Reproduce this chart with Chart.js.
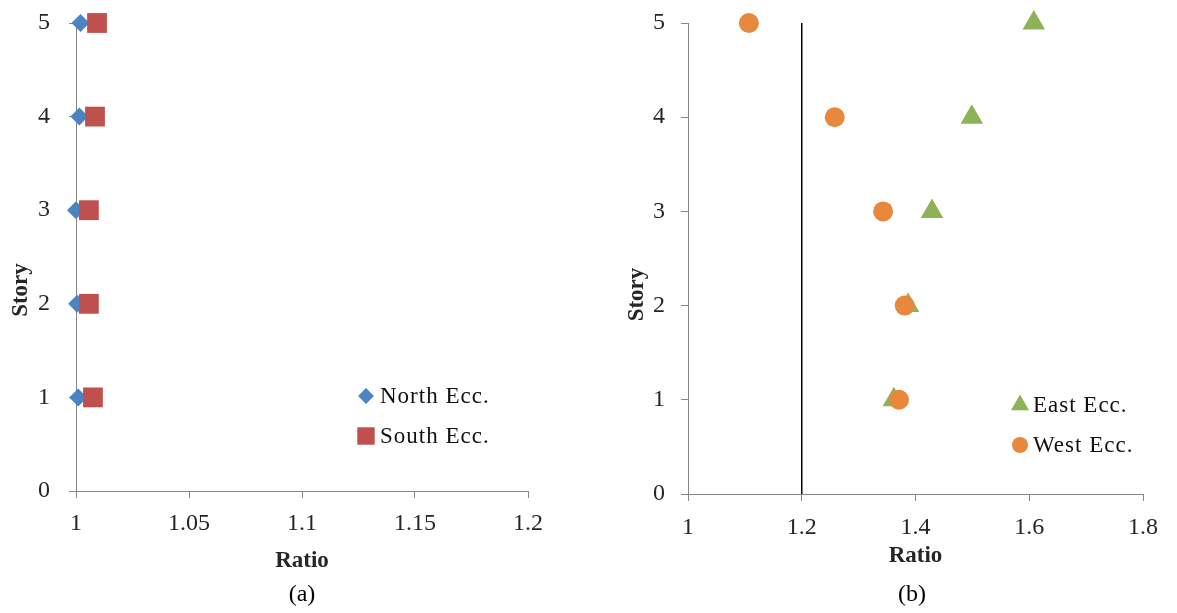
<!DOCTYPE html>
<html>
<head>
<meta charset="utf-8">
<script src="https://cdn.jsdelivr.net/npm/chart.js"></script>
<style>
  html, body { margin: 0; padding: 0; background: #fff; }
  body { width: 1177px; height: 613px; position: relative; overflow: hidden; font-family: "Liberation Serif", "Times New Roman", serif; }
  .box { position: absolute; top: 0; height: 613px; }
  #boxA { left: 0; width: 560px; }
  #boxB { left: 600px; width: 577px; }
  .cap { position: absolute; top: 578px; font-size: 24px; line-height: 30px; color: #000; transform: translateX(-50%); }
</style>
</head>
<body>
<div class="box" id="boxA"><canvas id="chartA" width="560" height="613"></canvas></div>
<div class="box" id="boxB"><canvas id="chartB" width="577" height="613"></canvas></div>
<div class="cap" style="left:302px">(a)</div>
<div class="cap" style="left:912px">(b)</div>
<script>
// story levels and the measured ratios for each one
const stories = [1, 2, 3, 4, 5];
const northEcc = [1.001, 1.0005, 1.0, 1.0015, 1.002];
const southEcc = [1.0075, 1.0057, 1.0057, 1.0084, 1.0093];
const eastEcc = [1.362, 1.387, 1.429, 1.499, 1.608];
const westEcc = [1.371, 1.381, 1.343, 1.258, 1.107];
// vertical limit line in (b)
const limitRatio = 1.2;
const limitStories = [0, 5];

const serif = '"Liberation Serif", "Times New Roman", serif';
Chart.defaults.font.family = serif;
Chart.defaults.color = '#262626';

const axisGray = '#868686';
const fmt = v => String(parseFloat(Number(v).toFixed(4)));
const pts = (xs, ys) => xs.map((x, i) => ({ x: x, y: ys[i] }));

// little legend drawn inside the plot, like the Excel one
const legendBox = {
  id: 'legendBox',
  afterDatasetsDraw(chart, args, opts) {
    const ctx = chart.ctx;
    ctx.save();
    opts.items.forEach((idx, i) => {
      const ds = chart.data.datasets[idx];
      const y = opts.y + i * opts.gap;
      ctx.fillStyle = ds.backgroundColor;
      ctx.strokeStyle = ds.backgroundColor;
      Chart.helpers.drawPoint(ctx, { pointStyle: ds.pointStyle, radius: ds.pointRadius * opts.scale, borderWidth: 0, rotation: 0 }, opts.x, y);
      ctx.fillStyle = '#111';
      ctx.font = opts.font;
      if ('letterSpacing' in ctx) ctx.letterSpacing = '1px';
      ctx.textBaseline = 'middle';
      ctx.textAlign = 'left';
      ctx.fillText(ds.label, opts.x + opts.textGap, y + 1);
    });
    ctx.restore();
  }
};

// "Story" sits a bit below the middle of the axis in the original
const storyTitle = {
  id: 'storyTitle',
  afterDraw(chart, args, opts) {
    const ctx = chart.ctx;
    const a = chart.chartArea;
    ctx.save();
    ctx.translate(opts.x, (a.top + a.bottom) / 2 + opts.shift);
    ctx.rotate(-Math.PI / 2);
    ctx.font = 'bold 23px ' + serif;
    ctx.fillStyle = '#262626';
    ctx.textAlign = 'center';
    ctx.textBaseline = 'middle';
    ctx.fillText(opts.text, 0, 0);
    ctx.restore();
  }
};

function makeScales(cfg) {
  return {
    x: {
      type: 'linear',
      min: cfg.xMin, max: cfg.xMax,
      afterFit: s => { s.height = cfg.xAxisH; },
      ticks: { stepSize: cfg.xStep, callback: fmt, padding: cfg.xTickPad, font: { size: 24 }, maxRotation: 0, autoSkip: false, color: '#262626' },
      grid: { drawOnChartArea: false, tickLength: 7, color: axisGray, tickColor: axisGray },
      border: { color: axisGray, width: 1 },
      title: { display: true, text: 'Ratio', font: { size: 23, weight: 'bold' }, color: '#262626', padding: { top: 0, bottom: cfg.xTitlePad } }
    },
    y: {
      type: 'linear',
      min: 0, max: 5,
      afterFit: s => { s.width = cfg.yAxisW; s.paddingTop = 0; s.paddingBottom = 0; },
      ticks: { stepSize: 1, padding: cfg.yTickPad, font: { size: 24 }, color: '#262626' },
      grid: { drawOnChartArea: false, tickLength: 7, color: axisGray, tickColor: axisGray },
      border: { color: axisGray, width: 1 }
    }
  };
}

const baseOpts = {
  responsive: false,
  devicePixelRatio: 1,
  animation: false,
  events: [],
  plugins: { legend: { display: false }, tooltip: { enabled: false } }
};

// (a)
new Chart(document.getElementById('chartA').getContext('2d'), {
  type: 'scatter',
  data: {
    datasets: [
      { label: 'North Ecc.', data: pts(northEcc, stories), pointStyle: 'rectRot', pointRadius: 9, backgroundColor: '#4A84C4', borderWidth: 0, clip: false, order: 1 },
      { label: 'South Ecc.', data: pts(southEcc, stories), pointStyle: 'rect', pointRadius: 14, backgroundColor: '#C0504D', borderWidth: 0, clip: false, order: 0 }
    ]
  },
  options: Object.assign({}, baseOpts, {
    layout: { padding: { top: 23, right: 32, bottom: 32, left: 0 } },
    scales: makeScales({ xMin: 1, xMax: 1.2, xStep: 0.05, xAxisH: 90, yAxisW: 76, xTickPad: 11, xTitlePad: 6, yTickPad: 19 }),
    plugins: Object.assign({}, baseOpts.plugins, {
      legendBox: { items: [0, 1], x: 366, y: 396, gap: 40, scale: 0.88, textGap: 14, font: '23px ' + serif },
      storyTitle: { text: 'Story', x: 21, shift: 33 }
    })
  }),
  plugins: [legendBox, storyTitle]
});

// (b)
new Chart(document.getElementById('chartB').getContext('2d'), {
  type: 'scatter',
  data: {
    datasets: [
      { label: 'East Ecc.', data: pts(eastEcc, stories), pointStyle: 'triangle', pointRadius: 13, backgroundColor: '#8DB356', borderWidth: 0, clip: false, order: 1 },
      { label: 'West Ecc.', data: pts(westEcc, stories), pointStyle: 'circle', pointRadius: 10, backgroundColor: '#E8883C', borderWidth: 0, clip: false, order: 0 },
      { label: 'limit', data: pts([limitRatio, limitRatio], limitStories), showLine: true, pointRadius: 0, borderColor: '#000', borderWidth: 1.5, clip: false, order: 2 }
    ]
  },
  options: Object.assign({}, baseOpts, {
    layout: { padding: { top: 23, right: 34, bottom: 32, left: 0 } },
    scales: makeScales({ xMin: 1, xMax: 1.8, xStep: 0.2, xAxisH: 87, yAxisW: 88, xTickPad: 12, xTitlePad: 11, yTickPad: 16 }),
    plugins: Object.assign({}, baseOpts.plugins, {
      legendBox: { items: [0, 1], x: 420, y: 405, gap: 40, scale: 0.8, textGap: 13, font: '23px ' + serif },
      storyTitle: { text: 'Story', x: 37, shift: 36 }
    })
  }),
  plugins: [legendBox, storyTitle]
});
</script>
</body>
</html>
